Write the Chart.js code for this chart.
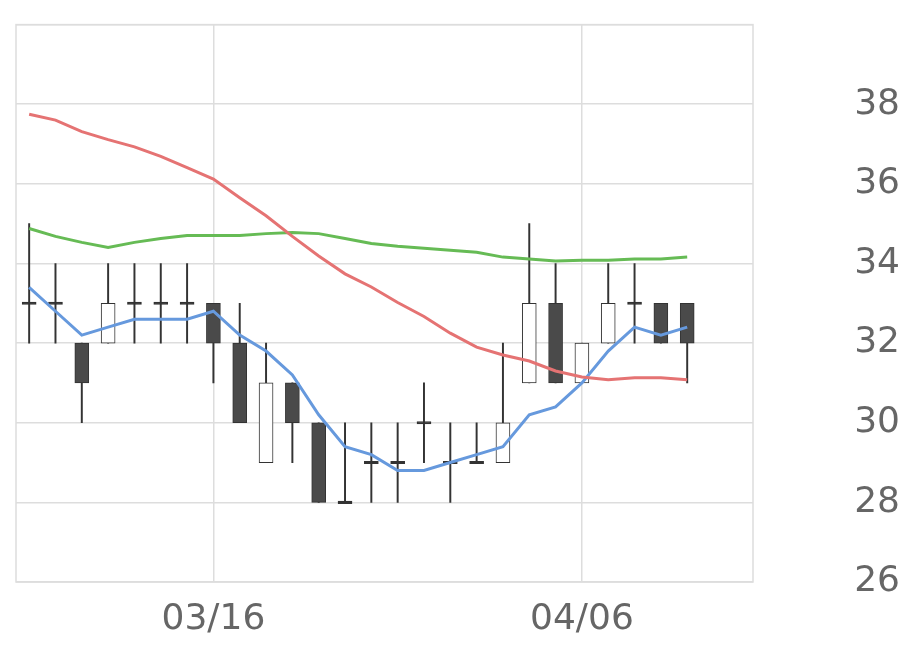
<!DOCTYPE html>
<html><head><meta charset="utf-8">
<script src="https://cdn.jsdelivr.net/npm/chart.js@4"></script>
<style>html,body{margin:0;padding:0;background:#fff}#w{width:920px;height:669px}</style>
</head><body><div id="w"><canvas id="c"></canvas></div>
<script>
const dates=["03/07","03/08","03/09","03/12","03/13","03/14","03/15","03/16","03/19","03/20","03/22","03/23","03/26","03/27","03/28","03/29","03/30","04/02","04/03","04/04","04/05","04/06","04/09","04/10","04/11","04/12","04/13","04/16"];
const shownLabels=["03/16","04/06"];
const opens =[33,33,32,32,33,33,33,33,32,29,31,30,28,29,29,30,29,29,29,31,33,31,32,33,33,33];
const highs =[35,34,32,34,34,34,34,33,33,32,31,30,30,30,30,31,30,30,32,35,34,32,34,34,33,33];
const lows  =[32,32,30,32,32,32,32,31,30,29,29,28,28,28,28,29,28,29,29,31,31,31,32,32,32,31];
const closes=[33,33,31,33,33,33,33,32,30,31,30,28,28,29,29,30,29,29,30,33,31,32,33,33,32,32];
const ma5 =[33.4,32.8,32.2,32.4,32.6,32.6,32.6,32.8,32.2,31.8,31.2,30.2,29.4,29.2,28.8,28.8,29.0,29.2,29.4,30.2,30.4,31.0,31.8,32.4,32.2,32.4];
const ma25=[37.75,37.6,37.31,37.11,36.93,36.69,36.41,36.12,35.65,35.2,34.68,34.19,33.74,33.41,33.02,32.67,32.25,31.9,31.7,31.55,31.3,31.15,31.08,31.13,31.13,31.08];
const ma75=[34.88,34.68,34.53,34.4,34.53,34.63,34.7,34.7,34.7,34.75,34.78,34.75,34.63,34.5,34.43,34.38,34.33,34.28,34.16,34.11,34.06,34.08,34.08,34.11,34.11,34.16];

const wick=highs.map((h,i)=>[lows[i],h]);
const body=opens.map((o,i)=>{const c=closes[i];return o===c?[o-0.03,o+0.03]:[Math.min(o,c),Math.max(o,c)];});
const bodyFill=opens.map((o,i)=>closes[i]<o?'#4a4a4a':(closes[i]===o?'#333':'#fff'));

const border={id:'b',afterDraw(ch){const a=ch.chartArea,x=ch.ctx;x.save();x.strokeStyle='#dddddd';x.lineWidth=1.5;x.strokeRect(a.left,a.top,a.right-a.left,a.bottom-a.top);x.restore();}};
new Chart(document.getElementById('c'),{
 data:{labels:dates,datasets:[
  {type:'line',data:ma25,borderColor:'#e57373',borderWidth:3,pointRadius:0,tension:0,order:0},
  {type:'line',data:ma75,borderColor:'#66bb55',borderWidth:3,pointRadius:0,tension:0,order:0},
  {type:'line',data:ma5,borderColor:'#6699dd',borderWidth:3,pointRadius:0,tension:0,order:0},
  {type:'bar',data:body,backgroundColor:bodyFill,borderColor:'#333',borderWidth:1,borderSkipped:false,barThickness:14,grouped:false,order:1},
  {type:'bar',data:wick,backgroundColor:'#333',barThickness:1.3,grouped:false,order:2}
 ]},
 plugins:[border],
 options:{responsive:true,maintainAspectRatio:false,animation:false,
  layout:{padding:{left:16,top:16,right:20,bottom:0}},
  plugins:{legend:{display:false},tooltip:{enabled:false}},
  scales:{
   x:{offset:true,grid:{offset:false,color:c=>shownLabels.includes(dates[c.index])?'#dddddd':'rgba(0,0,0,0)',lineWidth:1.5,drawTicks:false},border:{display:false},
      ticks:{autoSkip:false,maxRotation:0,padding:16,color:'#666',font:{family:'DejaVu Sans',size:36},callback:(v,i)=>shownLabels.includes(dates[i])?dates[i]:''},
      afterFit:s=>{s.height=87;}},
   y:{position:'right',min:26,max:40,grid:{color:'#dddddd',lineWidth:1.5,drawTicks:false},border:{display:false},
      ticks:{stepSize:2,crossAlign:'far',color:'#666',font:{family:'DejaVu Sans',size:36},callback:v=>v===40?'':v},
      afterFit:s=>{s.width=147;}}
  }}
});
</script></body></html>
